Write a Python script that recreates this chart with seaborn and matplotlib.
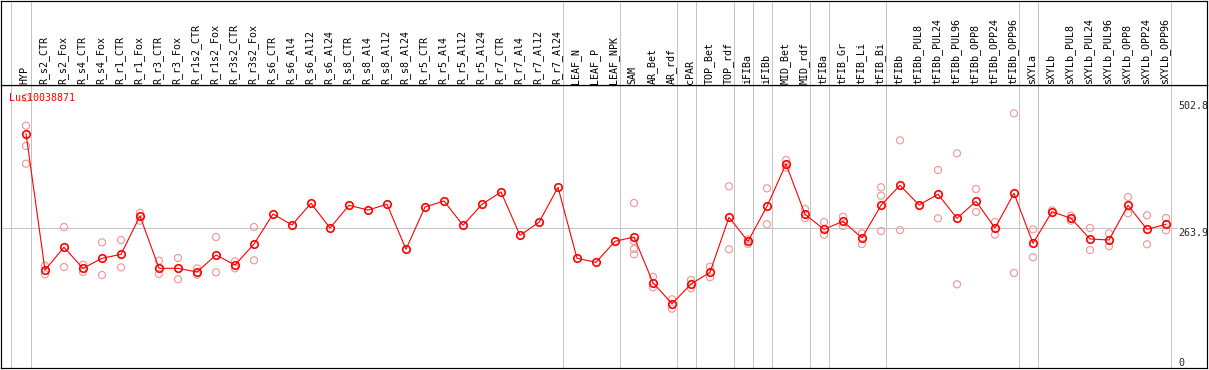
import numpy as np
import pandas as pd
import matplotlib
matplotlib.use("Agg")
import matplotlib.pyplot as plt
import seaborn as sns

sns.set_style("white")
plt.rcParams['font.family'] = ['DejaVu Sans Mono', 'DejaVu Sans']

gene = "Lus10038871"

categories = [
    "HYP", "R_s2_CTR", "R_s2_Fox", "R_s4_CTR", "R_s4_Fox", "R_r1_CTR", "R_r1_Fox",
    "R_r3_CTR", "R_r3_Fox", "R_r1s2_CTR", "R_r1s2_Fox", "R_r3s2_CTR", "R_r3s2_Fox",
    "R_s6_CTR", "R_s6_Al4", "R_s6_Al12", "R_s6_Al24", "R_s8_CTR", "R_s8_Al4",
    "R_s8_Al12", "R_s8_Al24", "R_r5_CTR", "R_r5_Al4", "R_r5_Al12", "R_r5_Al24",
    "R_r7_CTR", "R_r7_Al4", "R_r7_Al12", "R_r7_Al24", "LEAF_N", "LEAF_P", "LEAF_NPK",
    "SAM", "AR_Bet", "AR_rdf", "cPAR", "TOP_Bet", "TOP_rdf", "iFIBa", "iFIBb",
    "MID_Bet", "MID_rdf", "tFIBa", "tFIB_Gr", "tFIB_Li", "tFIB_Bi", "tFIBb",
    "tFIBb_PUL8", "tFIBb_PUL24", "tFIBb_PUL96", "tFIBb_OPP8", "tFIBb_OPP24",
    "tFIBb_OPP96", "sXYLa", "sXYLb", "sXYLb_PUL8", "sXYLb_PUL24", "sXYLb_PUL96",
    "sXYLb_OPP8", "sXYLb_OPP24", "sXYLb_OPP96",
]

mean_values = [
    442.0, 184.7, 227.5, 187.9, 206.8, 214.3, 286.5, 187.9, 187.9, 181.0, 213.0,
    194.2, 233.7, 290.3, 269.6, 310.5, 263.9, 306.7, 297.8, 308.6, 223.8, 303.5,
    314.8, 269.0, 308.6, 331.8, 250.1, 274.6, 340.6, 206.8, 199.2, 238.8, 246.9,
    160.8, 121.2, 158.3, 180.4, 284.1, 238.8, 304.8, 384.5, 289.7, 261.4, 276.5,
    245.1, 306.7, 344.4, 307.3, 327.4, 282.2, 314.2, 263.9, 329.3, 235.1, 294.6,
    282.2, 243.2, 241.3, 306.7, 261.4, 270.9,
]

rep_samples = (
    ["HYP"] * 4 + ["R_s2_CTR"] * 2 + ["R_s2_Fox"] * 2 + ["R_s4_CTR"] * 2 +
    ["R_s4_Fox"] * 2 + ["R_r1_CTR"] * 2 + ["R_r1_Fox"] * 2 + ["R_r3_CTR"] * 2 +
    ["R_r3_Fox"] * 2 + ["R_r1s2_CTR"] * 2 + ["R_r1s2_Fox"] * 2 +
    ["R_r3s2_CTR"] * 2 + ["R_r3s2_Fox"] * 2 + ["SAM"] * 4 + ["AR_Bet"] * 2 +
    ["AR_rdf"] * 2 + ["cPAR"] * 2 + ["TOP_Bet"] * 2 + ["TOP_rdf"] * 2 +
    ["iFIBa"] * 2 + ["iFIBb"] * 2 + ["MID_Bet"] * 2 + ["MID_rdf"] * 2 +
    ["tFIBa"] * 2 + ["tFIB_Gr"] * 2 + ["tFIB_Li"] * 2 + ["tFIB_Bi"] * 3 +
    ["tFIBb"] * 2 + ["tFIBb_PUL24"] * 2 + ["tFIBb_PUL96"] * 2 +
    ["tFIBb_OPP8"] * 2 + ["tFIBb_OPP24"] * 2 + ["tFIBb_OPP96"] * 2 +
    ["sXYLa"] * 2 + ["sXYLb"] * 1 + ["sXYLb_PUL8"] * 2 + ["sXYLb_PUL24"] * 2 +
    ["sXYLb_PUL96"] * 2 + ["sXYLb_OPP8"] * 2 + ["sXYLb_OPP24"] * 2 +
    ["sXYLb_OPP96"] * 2
)
rep_values = [
    509.5, 456.7, 418.5, 385.1,
    192.8, 176.6,
    265.8, 190.4,
    194.7, 181.0,
    236.9, 175.3,
    241.3, 189.8,
    292.7, 277.7,
    202.3, 177.2,
    207.4, 167.2,
    187.9, 175.9,
    246.9, 180.4,
    201.1, 187.9,
    265.8, 203.0,
    311.0, 238.8, 224.3, 214.3,
    172.1, 152.1,
    129.5, 111.8,
    165.9, 150.2,
    191.0, 171.0,
    342.5, 223.8,
    242.6, 233.7,
    338.7, 270.9,
    392.1, 377.6,
    299.7, 282.2,
    275.2, 251.3,
    285.2, 267.7,
    253.9, 233.7,
    340.6, 324.8, 258.2,
    429.2, 260.1,
    373.2, 282.2,
    404.7, 157.8,
    337.4, 294.1,
    275.2, 251.3,
    480.1, 179.1,
    261.4, 208.7,
    297.3,
    287.1, 277.7,
    263.9, 222.4,
    253.9, 229.4,
    322.3, 291.6,
    287.8, 233.2,
    282.8, 259.6,
]

# group separators: after these samples
separators_after = ["HYP", "R_r7_Al24", "LEAF_NPK", "AR_rdf", "cPAR", "TOP_rdf",
                    "iFIBa", "iFIBb", "MID_rdf", "tFIBa", "tFIB_Bi", "tFIBb_OPP96",
                    "sXYLa", "sXYLb_OPP96"]
ref_levels = [0, 263.9, 502.8]
ref_labels = ["0", "263.9", "502.8"]

# ---------------------------------------------------------------
pos = {c: i for i, c in enumerate(categories)}
df_mean = pd.DataFrame({"pos": np.arange(len(categories)), "value": mean_values})
df_rep = pd.DataFrame({"pos": [pos[s] for s in rep_samples], "value": rep_values})

W, H = 1209, 370
fig = plt.figure(figsize=(W / 100, H / 100), dpi=100)

px_left, px_right = 1, 1207
px_head_top, px_plot_top, px_bottom = 0.5, 85, 368
x0, step = 26, 19.0
xlim = ((px_left - x0) / step, (px_right - x0) / step)
scale = (px_bottom - 228) / 263.9
ylim = (0, (px_bottom - px_plot_top) / scale)

ax = fig.add_axes([px_left / W, (H - px_bottom) / H, (px_right - px_left) / W,
                   (px_bottom - px_plot_top) / H])
axh = fig.add_axes([px_left / W, (H - px_plot_top) / H, (px_right - px_left) / W,
                    (px_plot_top - px_head_top) / H], sharex=ax)

grid_c = "#C4C4C4"
lw1 = 0.72
sep_positions = [-0.8] + [pos[s] + 0.25 for s in separators_after]
for a in (ax, axh):
    for s in a.spines.values():
        s.set_color("black")
        s.set_linewidth(lw1 * 1.2)
    a.set_xticks([])
    a.set_yticks([])
    a.set_xlabel("")
    a.set_ylabel("")
    for xs in sep_positions:
        a.axvline(xs, color=grid_c, lw=lw1, zorder=1)

ax.set_xlim(*xlim)
ax.set_ylim(*ylim)
axh.set_ylim(px_plot_top - px_head_top, 0)

# reference line at the middle level
ax.hlines(ref_levels[1], xlim[0], (1177 - x0) / step, color=grid_c, lw=lw1, zorder=1)

# replicates
pink = "#EE9A9A"
sns.scatterplot(data=df_rep, x="pos", y="value", ax=ax, marker="o", s=26,
                facecolors="none", edgecolor=pink, linewidth=0.85, zorder=2,
                legend=False)
# means
sns.lineplot(data=df_mean, x="pos", y="value", ax=ax, color="red", linewidth=0.8,
             marker="o", markersize=5.4, markerfacecolor="none",
             markeredgecolor="red", markeredgewidth=1.2, estimator=None,
             zorder=3, legend=False)
ax.set_xlabel("")
ax.set_ylabel("")
ax.set_xlim(*xlim)
ax.set_ylim(*ylim)

fs = 7.2
for c, i in pos.items():
    axh.text(i - 0.06, 83, c, rotation=90, ha="center", va="bottom",
             fontsize=fs, color="black")

# gene name
ax.text((9.3 - x0) / step, (px_bottom - 97.5) / scale, gene, color="red",
        fontsize=fs, ha="left", va="center", zorder=4)

# value labels on the right
lab_x = (1178 - x0) / step
ax.text(lab_x, ref_levels[2], ref_labels[2], fontsize=fs, ha="left", va="top",
        clip_on=False)
ax.text(lab_x, ref_levels[1], ref_labels[1], fontsize=fs, ha="left", va="top",
        clip_on=False)
ax.text(lab_x, (px_bottom - 358.5) / scale, ref_labels[0], fontsize=fs,
        ha="left", va="top", clip_on=False)

fig.savefig("out.png", dpi=100, facecolor="white")
